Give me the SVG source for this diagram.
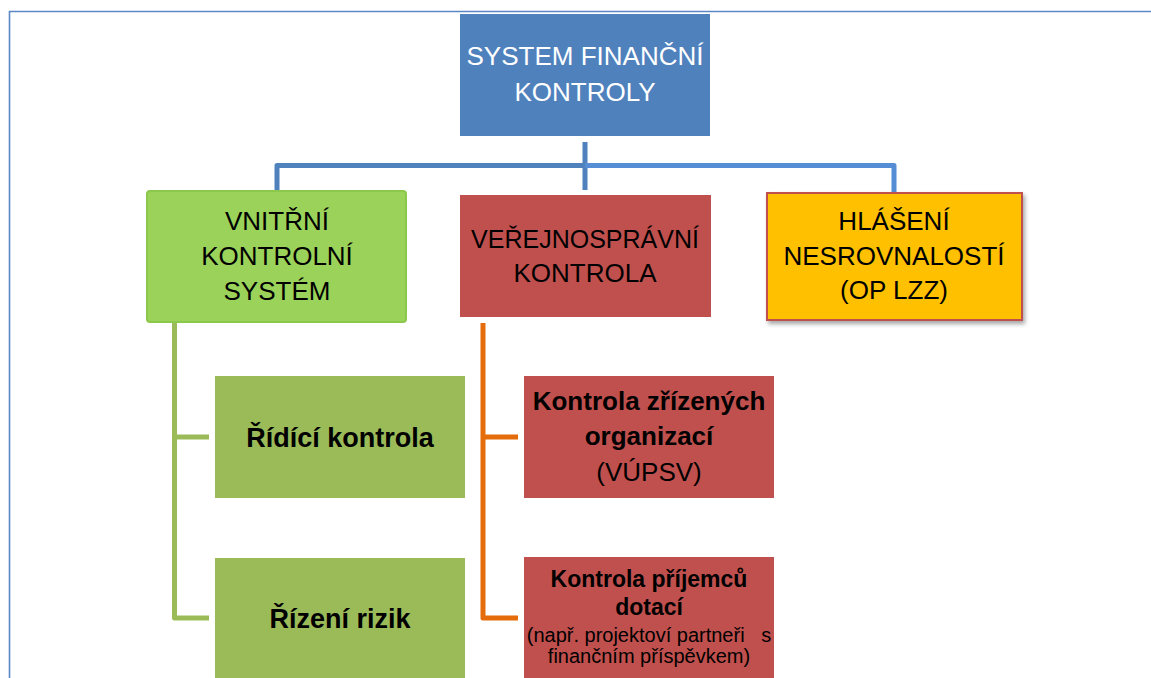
<svg xmlns="http://www.w3.org/2000/svg" width="1151" height="678" viewBox="0 0 1151 678">
<defs>
<filter id="sh" x="-10%" y="-10%" width="130%" height="130%">
<feDropShadow dx="2" dy="3" stdDeviation="2" flood-color="#000" flood-opacity="0.35"/>
</filter>
</defs>
<style>
text{font-family:"Liberation Sans",Arial,sans-serif;text-anchor:middle}
.t{font-size:26px;fill:#000}
.w{fill:#fff}
.b{font-weight:bold}
.big{font-size:27px}
.con{fill:none;stroke-width:5;stroke-linejoin:round}
</style>
<rect width="1151" height="678" fill="#fff"/>
<path d="M9.5,678 V11.5 H1151" fill="none" stroke="#5b87c5" stroke-width="1.6"/>
<g id="connectors">
<path class="con" d="M585,142 V190" stroke="#4f81bd"/>
<path class="con" d="M277,192 V165.5 H585" stroke="#4f81bd"/>
<path class="con" d="M585,165.5 H894 V193" stroke="#558ed5"/>
<path class="con" d="M174.5,323 V618 H209 M174.5,437 H209" stroke="#9bbb59"/>
<path class="con" d="M483,323 V618 H518 M483,437 H518" stroke="#e46c0a"/>
</g>
<g id="top">
<rect x="460" y="14" width="250" height="122" fill="#4f81bd"/>
<text class="t w" x="585" y="65">SYSTEM FINANČNÍ</text>
<text class="t w" x="585" y="101">KONTROLY</text>
</g>
<g id="vks">
<rect x="147" y="191" width="259" height="131" rx="3" fill="#9bd35a" stroke="#8cc84b" stroke-width="2"/>
<text class="t" x="277" y="230">VNITŘNÍ</text>
<text class="t" x="277" y="265">KONTROLNÍ</text>
<text class="t" x="277" y="300">SYSTÉM</text>
</g>
<g id="vsk">
<rect x="460" y="195" width="251" height="122" fill="#c0504d"/>
<text class="t" x="585" y="248" style="font-size:25px">VEŘEJNOSPRÁVNÍ</text>
<text class="t" x="585" y="282">KONTROLA</text>
</g>
<g id="hlaseni">
<rect x="767" y="193" width="255" height="127" fill="#ffc000" stroke="#c0504d" stroke-width="2" filter="url(#sh)"/>
<text class="t" x="894" y="230">HLÁŠENÍ</text>
<text class="t" x="894" y="265">NESROVNALOSTÍ</text>
<text class="t" x="894" y="299">(OP LZZ)</text>
</g>
<g id="ridici">
<rect x="215" y="376" width="250" height="122" fill="#9bbb59"/>
<text class="t b big" x="340" y="447">Řídící kontrola</text>
</g>
<g id="rizeni">
<rect x="215" y="558" width="250" height="122" fill="#9bbb59"/>
<text class="t b big" x="340" y="628">Řízení rizik</text>
</g>
<g id="zrizenych">
<rect x="524" y="376" width="250" height="122" fill="#c0504d"/>
<text class="t b" x="649" y="410">Kontrola zřízených</text>
<text class="t b" x="649" y="445">organizací</text>
<text class="t" x="649" y="481">(VÚPSV)</text>
</g>
<g id="prijemcu">
<rect x="524" y="557" width="250" height="123" fill="#c0504d"/>
<text class="b" x="649" y="587" style="font-size:23px">Kontrola příjemců</text>
<text class="b" x="649" y="615" style="font-size:23px">dotací</text>
<text x="649" y="642" xml:space="preserve" style="font-size:20px;white-space:pre">(např. projektoví partneři   s</text>
<text x="649" y="663" style="font-size:20px">finančním příspěvkem)</text>
</g>
</svg>
